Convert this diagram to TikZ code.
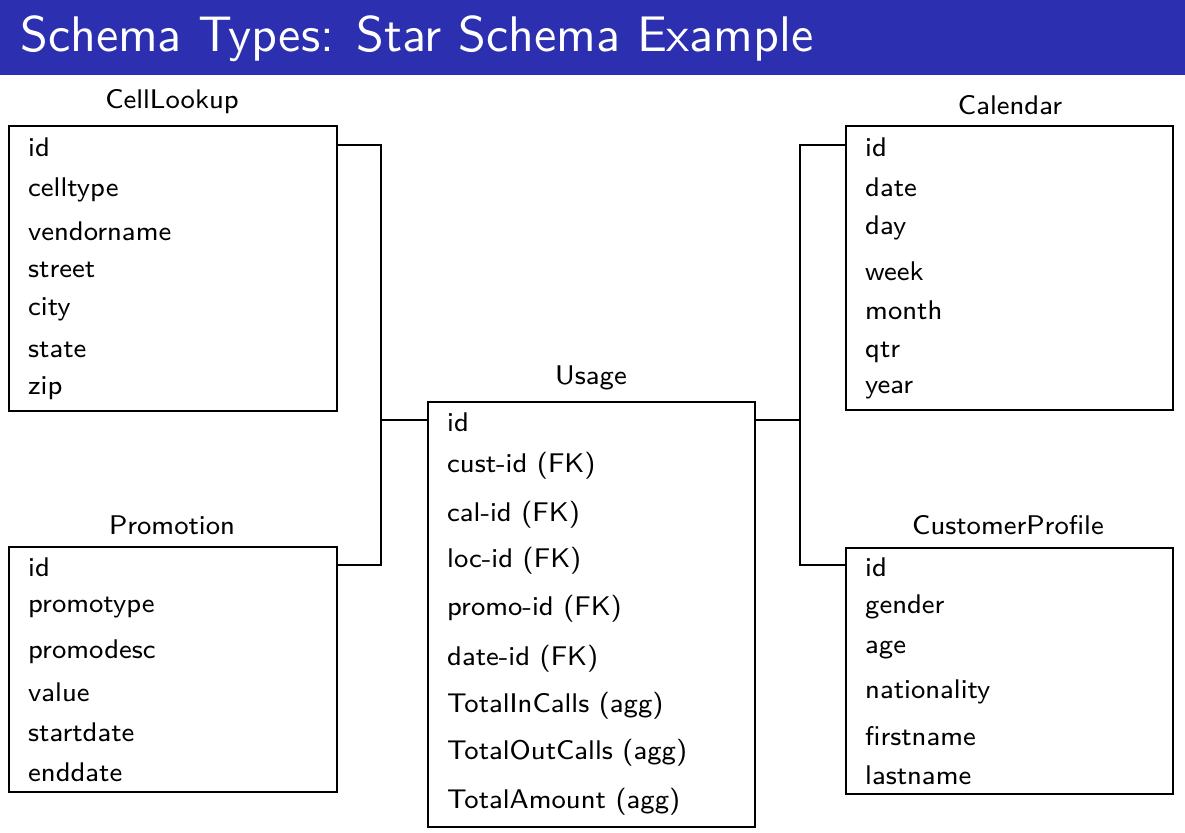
\documentclass[tikz,border=0pt]{standalone}
\usepackage{fontspec}
\newfontfamily\bodyfont{lmsans8-regular.otf}
\newfontfamily\titlefont{lmsans10-regular.otf}
\begin{document}
\begin{tikzpicture}[x=1pt,y=-1pt,
  tbl/.style={draw=black,line width=1.6pt,inner sep=0pt,anchor=north west},
  fld/.style={anchor=base west,inner sep=0pt,font=\bodyfont\fontsize{27}{30}\selectfont},
  ttl/.style={anchor=base,inner sep=0pt,font=\bodyfont\fontsize{27}{30}\selectfont},
  conn/.style={draw=black,line width=1.6pt}]
\useasboundingbox (0,0) rectangle (1185,832);
\fill[white] (0,0) rectangle (1185,832);
\fill[fill={rgb,255:red,44;green,48;blue,176}] (0,0) rectangle (1185,75);
\node[anchor=base west,inner sep=0pt,text=white,font=\titlefont\fontsize{50}{55}\selectfont] (title) at (20,52) {Schema Types: Star Schema Example};

% CellLookup
\node[tbl,minimum width=328pt,minimum height=285pt] (cellbox) at (8,125) {};
\node[ttl] (cellttl) at (172,109) {CellLookup};
\node[fld] (cellid) at (28,156) {id};
\node[fld] (cell2) at (28,196) {celltype};
\node[fld] (cell3) at (28,240) {vendorname};
\node[fld] (cell4) at (28,277) {street};
\node[fld] (cell5) at (28,315) {city};
\node[fld] (cell6) at (28,357) {state};
\node[fld] (cell7) at (28,394) {zip};

% Promotion
\node[tbl,minimum width=328pt,minimum height=245pt] (promobox) at (8,546) {};
\node[ttl] (promottl) at (172,534) {Promotion};
\node[fld] (promoid) at (28,576) {id};
\node[fld] (promo2) at (28,612) {promotype};
\node[fld] (promo3) at (28,658) {promodesc};
\node[fld] (promo4) at (28,701) {value};
\node[fld] (promo5) at (28,741) {startdate};
\node[fld] (promo6) at (28,781) {enddate};

% Usage
\node[tbl,minimum width=327pt,minimum height=425pt] (usagebox) at (427,401) {};
\node[ttl] (usagettl) at (591,384) {Usage};
\node[fld] (usageid) at (447,431) {id};
\node[fld] (usage2) at (447,472) {cust-id (FK)};
\node[fld] (usage3) at (447,521) {cal-id (FK)};
\node[fld] (usage4) at (447,567) {loc-id (FK)};
\node[fld] (usage5) at (447,615) {promo-id (FK)};
\node[fld] (usage6) at (447,665) {date-id (FK)};
\node[fld] (usage7) at (447,712) {TotalInCalls (agg)};
\node[fld] (usage8) at (447,759) {TotalOutCalls (agg)};
\node[fld] (usage9) at (447,808) {TotalAmount (agg)};

% Calendar
\node[tbl,minimum width=327pt,minimum height=284pt] (calbox) at (845,125) {};
\node[ttl] (calttl) at (1010,114) {Calendar};
\node[fld] (calid) at (865,156) {id};
\node[fld] (cal2) at (865,196) {date};
\node[fld] (cal3) at (865,234) {day};
\node[fld] (cal4) at (865,280) {week};
\node[fld] (cal5) at (865,319) {month};
\node[fld] (cal6) at (865,357) {qtr};
\node[fld] (cal7) at (865,393) {year};

% CustomerProfile
\node[tbl,minimum width=327pt,minimum height=246pt] (custbox) at (845,547) {};
\node[ttl] (custttl) at (1008,534) {CustomerProfile};
\node[fld] (custid) at (865,576) {id};
\node[fld] (cust2) at (865,613) {gender};
\node[fld] (cust3) at (865,653) {age};
\node[fld] (cust4) at (865,698) {nationality};
\node[fld] (cust5) at (865,745) {firstname};
\node[fld] (cust6) at (865,784) {lastname};

% connectors
\coordinate (jl) at (381,420);
\coordinate (jr) at (800,420);
\draw[conn] (cellbox.east |- 0,145) -| (jl) |- (promobox.east |- 0,565);
\draw[conn] (jl) -- (usagebox.west |- jl);
\draw[conn] (calbox.west |- 0,145) -| (jr) |- (custbox.west |- 0,565);
\draw[conn] (jr) -- (usagebox.east |- jr);
\end{tikzpicture}
\end{document}
